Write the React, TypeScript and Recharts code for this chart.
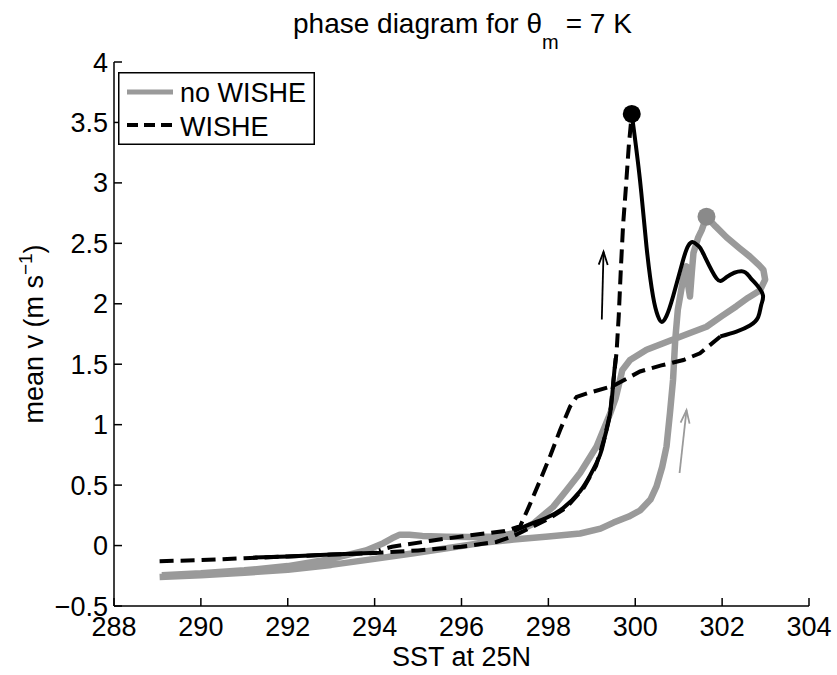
import { ComposedChart, Legend, Line, XAxis, YAxis } from 'recharts';

type Pt = [number, number] | null;

const xTicks = [288, 290, 292, 294, 296, 298, 300, 302, 304];
const yTicks = [-0.5, 0, 0.5, 1, 1.5, 2, 2.5, 3, 3.5, 4];

// gray run without WISHE, in time order (up the right branch, back down the diagonal)
const noWishe: Pt[] = [
  [289.05, -0.26], [290.0, -0.245], [291.0, -0.225], [292.0, -0.2], [293.0, -0.16], [294.0, -0.11],
  [294.9, -0.064], [295.7, -0.02], [296.43, 0.02], [297.2, 0.05], [298.0, 0.075], [298.73, 0.1],
  [299.2, 0.14], [299.5, 0.19], [299.85, 0.24], [300.11, 0.29], [300.35, 0.38], [300.49, 0.49],
  [300.62, 0.65], [300.72, 0.82], [300.8, 1.1], [300.87, 1.37], [300.92, 1.7], [300.98, 1.95],
  [301.1, 2.2], [301.18, 2.31], [301.22, 2.15], [301.26, 2.06], [301.3, 2.25], [301.34, 2.42],
  [301.45, 2.55], [301.53, 2.61], [301.64, 2.72], [301.85, 2.64], [302.1, 2.55], [302.4, 2.46],
  [302.64, 2.39], [302.85, 2.32], [302.95, 2.28], [302.99, 2.2], [302.87, 2.11], [302.6, 2.05],
  [302.33, 1.98], [302.0, 1.9], [301.64, 1.81], [301.2, 1.75], [300.84, 1.7], [300.26, 1.62],
  [299.88, 1.535], [299.7, 1.45], [299.65, 1.37], [299.55, 1.22], [299.42, 1.09], [299.11, 0.82],
  [298.73, 0.6], [298.4, 0.45], [298.11, 0.32], [297.65, 0.18], [297.19, 0.1], [296.8, 0.075],
  [296.2, 0.07], [295.66, 0.073], [295.1, 0.08], [294.8, 0.09], [294.58, 0.09], [294.4, 0.06],
  [294.2, 0.02], [293.8, -0.04], [293.0, -0.11], [292.0, -0.17], [291.0, -0.205], [290.0, -0.23],
  [289.1, -0.245],
];
const noWishePeak: Pt[] = [[301.64, 2.72]];

// WISHE run, dashed parts (rise to the peak, then the return from the right)
const wisheDashed: Pt[] = [
  [289.05, -0.13], [290.0, -0.12], [291.0, -0.105], [292.0, -0.09], [293.0, -0.075], [294.1, -0.06],
  [295.0, -0.04], [296.0, -0.01], [296.8, 0.03], [297.2, 0.08], [297.6, 0.15], [298.0, 0.22],
  [298.4, 0.31], [298.8, 0.47], [299.1, 0.66], [299.3, 0.9], [299.42, 1.09], [299.5, 1.37],
  [299.57, 1.6], [299.62, 1.9], [299.67, 2.3], [299.72, 2.65], [299.78, 2.94], [299.85, 3.3],
  [299.92, 3.57],
  null,
  [301.96, 1.73], [301.49, 1.59], [301.11, 1.535], [300.6, 1.49], [300.11, 1.44], [299.49, 1.32],
  [298.9, 1.26], [298.65, 1.23], [298.5, 1.15], [298.27, 0.956], [298.05, 0.75], [297.81, 0.54],
  [297.55, 0.32], [297.35, 0.16], [297.0, 0.12], [296.3, 0.09], [295.3, 0.04], [294.4, -0.01],
  [294.1, -0.04],
];

// WISHE run, solid parts
const wisheSolid: Pt[] = [
  [291.2, -0.1], [292.0, -0.09], [293.0, -0.075], [294.05, -0.06],
  null,
  [297.2, 0.12], [297.6, 0.18], [297.96, 0.23], [298.34, 0.31], [298.73, 0.45], [298.96, 0.58],
  [299.19, 0.75], [299.3, 0.9], [299.42, 1.09], [299.5, 1.37], [299.55, 1.55],
  null,
  [299.92, 3.57], [300.11, 3.02], [300.26, 2.47], [300.41, 2.06], [300.52, 1.9], [300.61, 1.85],
  [300.72, 1.9], [300.87, 2.06], [301.1, 2.36], [301.22, 2.48], [301.33, 2.51], [301.45, 2.48],
  [301.56, 2.42], [301.87, 2.21], [302.1, 2.22], [302.45, 2.27], [302.64, 2.22], [302.8, 2.155],
  [302.94, 2.07], [302.9, 1.99], [302.83, 1.89], [302.64, 1.82], [302.33, 1.77], [301.96, 1.73],
];
const wishePeak: Pt[] = [[299.92, 3.57]];

const arrowWishe: Pt[] = [[299.23, 1.87], [299.27, 2.43]];
const arrowNoWishe: Pt[] = [[301.02, 0.6], [301.18, 1.12]];

const toRows = (pts: Pt[]) =>
  pts.map((p, i) => (p ? { x: p[0], y: p[1] } : { x: (pts[i - 1] as [number, number])[0], y: null }));

const GRAY = '#9a9a9a';
const FONT = '"Liberation Sans", Arial, Helvetica, sans-serif';
const FS = 27;

const arrowHead = (color: string) => (props: any) => {
  const { cx, cy, index, points } = props;
  if (index !== 1) return <g key={`a-${index}`} />;
  const p0 = points && points[0];
  const ang = p0 ? Math.atan2(cy - p0.y, cx - p0.x) : -Math.PI / 2;
  const len = 13;
  const half = 4.5;
  const bx = cx - Math.cos(ang) * len;
  const by = cy - Math.sin(ang) * len;
  const nx = -Math.sin(ang) * half;
  const ny = Math.cos(ang) * half;
  return (
    <polyline
      key={`a-${index}`}
      points={`${bx + nx},${by + ny} ${cx},${cy} ${bx - nx},${by - ny}`}
      fill="none"
      stroke={color}
      strokeWidth={1.8}
    />
  );
};

function LegendBox() {
  return (
    <svg width={197} height={73} style={{ display: 'block' }}>
      <rect x={0.75} y={0.75} width={195.5} height={71.5} fill="#fff" stroke="#000" strokeWidth={1.5} />
      <line x1={9} x2={55} y1={20} y2={20} stroke={GRAY} strokeWidth={5} />
      <text x={62} y={30} fontSize={FS} fill="#000">no WISHE</text>
      <line x1={9} x2={55} y1={53} y2={53} stroke="#000" strokeWidth={4} strokeDasharray="11 6" />
      <text x={62} y={64} fontSize={FS} fill="#000">WISHE</text>
    </svg>
  );
}

export default function App() {
  const fmt = (v: number) => String(v).replace('-', '\u2212');

  return (
    <div
      style={{
        position: 'fixed',
        left: 0,
        top: 0,
        width: 837,
        height: 675,
        background: '#fff',
        fontFamily: FONT,
      }}
    >
      <ComposedChart width={837} height={675} margin={{ top: 62, right: 28, bottom: 0, left: 0 }}>
        <XAxis
          dataKey="x"
          type="number"
          domain={[288, 304]}
          ticks={xTicks}
          interval={0}
          allowDataOverflow
          height={69}
          tickSize={-8}
          tickMargin={19}
          axisLine={{ stroke: '#000', strokeWidth: 1.5 }}
          tickLine={{ stroke: '#000', strokeWidth: 1.5 }}
          tick={{ fill: '#000', fontSize: FS }}
          label={{ value: 'SST at 25N', position: 'insideBottom', offset: 9, fontSize: FS, fill: '#000' }}
        />
        <XAxis
          xAxisId="top"
          orientation="top"
          dataKey="x"
          type="number"
          domain={[288, 304]}
          ticks={xTicks}
          interval={0}
          height={0}
          tickSize={-8}
          tick={false}
          axisLine={{ stroke: '#000', strokeWidth: 1.5 }}
          tickLine={{ stroke: '#000', strokeWidth: 1.5 }}
        />
        <YAxis
          type="number"
          domain={[-0.5, 4]}
          ticks={yTicks}
          interval={0}
          allowDataOverflow
          width={114}
          tickSize={-8}
          tickMargin={14}
          tickFormatter={fmt}
          axisLine={{ stroke: '#000', strokeWidth: 1.5 }}
          tickLine={{ stroke: '#000', strokeWidth: 1.5 }}
          tick={{ fill: '#000', fontSize: FS }}
        />
        <YAxis
          yAxisId="right"
          orientation="right"
          type="number"
          domain={[-0.5, 4]}
          ticks={yTicks}
          interval={0}
          width={0}
          tickSize={-8}
          tick={false}
          axisLine={{ stroke: '#000', strokeWidth: 1.5 }}
          tickLine={{ stroke: '#000', strokeWidth: 1.5 }}
        />
        <Legend
          layout="vertical"
          align="center"
          verticalAlign="middle"
          content={() => <LegendBox />}
          wrapperStyle={{ left: 118, top: 72, width: 197, height: 73 }}
        />
        <Line
          data={toRows(noWishe)}
          dataKey="y"
          type="linear"
          stroke={GRAY}
          strokeWidth={6.5}
          strokeLinejoin="round"
          dot={false}
          activeDot={false}
          isAnimationActive={false}
        />
        <Line
          data={toRows(arrowNoWishe)}
          dataKey="y"
          type="linear"
          stroke={GRAY}
          strokeWidth={1.8}
          dot={arrowHead(GRAY)}
          activeDot={false}
          isAnimationActive={false}
        />
        <Line
          data={toRows(noWishePeak)}
          dataKey="y"
          stroke="none"
          dot={{ r: 9, fill: '#8a8a8a', stroke: 'none' }}
          activeDot={false}
          isAnimationActive={false}
        />
        <Line
          data={toRows(wisheSolid)}
          dataKey="y"
          type="natural"
          stroke="#000"
          strokeWidth={4}
          strokeLinejoin="round"
          dot={false}
          activeDot={false}
          isAnimationActive={false}
        />
        <Line
          data={toRows(wisheDashed)}
          dataKey="y"
          type="linear"
          stroke="#000"
          strokeWidth={4}
          strokeDasharray="14 7"
          dot={false}
          activeDot={false}
          isAnimationActive={false}
        />
        <Line
          data={toRows(arrowWishe)}
          dataKey="y"
          type="linear"
          stroke="#000"
          strokeWidth={1.8}
          dot={arrowHead('#000')}
          activeDot={false}
          isAnimationActive={false}
        />
        <Line
          data={toRows(wishePeak)}
          dataKey="y"
          stroke="none"
          dot={{ r: 9, fill: '#000', stroke: 'none' }}
          activeDot={false}
          isAnimationActive={false}
        />
      </ComposedChart>
      <svg
        width={837}
        height={675}
        style={{ position: 'absolute', left: 0, top: 0, pointerEvents: 'none' }}
      >
        <text x={293} y={33} fontSize={28} fill="#000">
          phase diagram for θ
          <tspan fontSize={20} dy={16}>m</tspan>
          <tspan dy={-16} dx={7}>= 7 K</tspan>
        </text>
        <text x={43} y={334} fontSize={FS} fill="#000" textAnchor="middle" transform="rotate(-90 43 334)">
          mean v (m s<tspan fontSize={19} dy={-11}>−1</tspan>
          <tspan dy={11}>)</tspan>
        </text>
      </svg>
    </div>
  );
}
